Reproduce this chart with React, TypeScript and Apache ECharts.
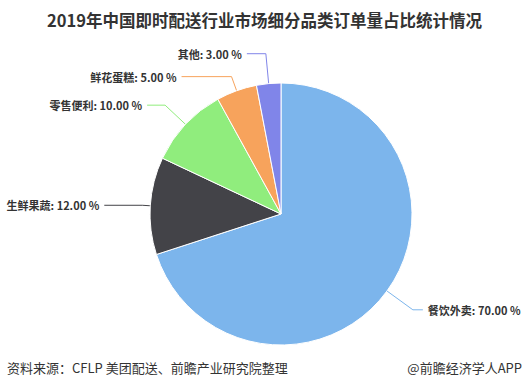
import React, { useEffect, useRef } from "react";
import * as echarts from "echarts";

const categories = ["餐饮外卖", "生鲜果蔬", "零售便利", "鲜花蛋糕", "其他"];
const shares = [70, 12, 10, 5, 3];
const colors = ["#7cb5ec", "#434348", "#90ed7d", "#f7a35c", "#8085e9"];
// leader line segment lengths per slice: [radial, horizontal]
const leaderLengths = [
  [32, 10],
  [8, 38],
  [28, 18],
  [15, 50],
  [30, 19],
];

const titleText = "2019年中国即时配送行业市场细分品类订单量占比统计情况";
const sourceText = "资料来源：CFLP 美团配送、前瞻产业研究院整理";
const creditText = "@前瞻经济学人APP";

const FONT = '"Noto Sans CJK SC", "Noto Sans", sans-serif';

export default function App() {
  const ref = useRef<HTMLDivElement>(null);

  useEffect(() => {
    if (!ref.current) return;
    const chart = echarts.init(ref.current, undefined, { renderer: "svg" });
    chart.setOption({
      animation: false,
      backgroundColor: "#ffffff",
      title: {
        text: titleText,
        left: "center",
        top: 7,
        textStyle: { fontFamily: FONT, fontSize: 16.5, fontWeight: "bold", color: "#333333" },
      },
      graphic: [
        {
          type: "text",
          left: 7,
          top: 361,
          style: { text: sourceText, font: `13px ${FONT}`, fill: "#333333" },
        },
        {
          type: "text",
          right: 7,
          top: 361,
          style: { text: creditText, font: `13px ${FONT}`, fill: "#333333" },
        },
      ],
      series: [
        {
          type: "pie",
          center: [281, 214],
          radius: 131,
          startAngle: 90,
          clockwise: true,
          avoidLabelOverlap: false,
          itemStyle: { borderColor: "#ffffff", borderWidth: 1 },
          label: {
            show: true,
            overflow: "none",
            fontFamily: FONT,
            fontSize: 11,
            fontWeight: "bold",
            color: "#333333",
            formatter: (p: any) => `${p.name}: ${Number(p.value).toFixed(2)} %`,
          },
          labelLine: { show: true, lineStyle: { width: 1 } },
          data: categories.map((name, i) => ({
            name,
            value: shares[i],
            itemStyle: { color: colors[i] },
            labelLine: { length: leaderLengths[i][0], length2: leaderLengths[i][1] },
          })),
        },
      ],
    });
    return () => chart.dispose();
  }, []);

  return (
    <div
      ref={ref}
      style={{ position: "fixed", left: 0, top: 0, width: 529, height: 391 }}
    />
  );
}
